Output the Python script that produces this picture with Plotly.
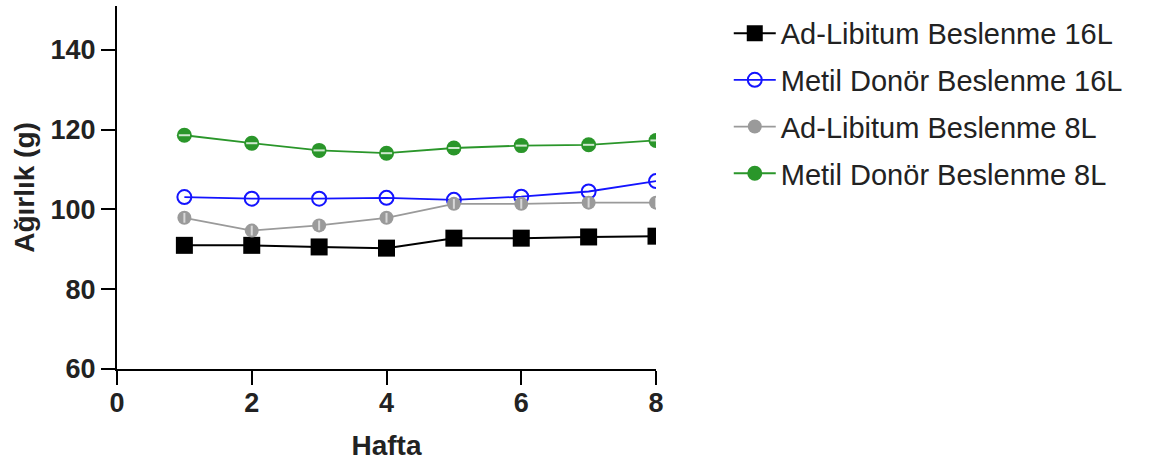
import plotly.graph_objects as go

# Weekly body weight (g) per feeding group
weeks = [1, 2, 3, 4, 5, 6, 7, 8]
ad_lib_16l = [91.0, 91.0, 90.6, 90.3, 92.8, 92.8, 93.1, 93.3]
metil_16l = [103.1, 102.7, 102.7, 102.9, 102.4, 103.2, 104.5, 107.1]
ad_lib_8l = [97.9, 94.7, 96.0, 97.9, 101.4, 101.4, 101.7, 101.7]
metil_8l = [118.6, 116.6, 114.8, 114.1, 115.4, 116.0, 116.2, 117.3]

series_names = [
    "Ad-Libitum Beslenme 16L",
    "Metil Donör Beslenme 16L",
    "Ad-Libitum Beslenme 8L",
    "Metil Donör Beslenme 8L",
]
x_title = "Hafta"
y_title = "Ağırlık (g)"
y_ticks = [60, 80, 100, 120, 140]
x_ticks = [0, 2, 4, 6, 8]

BLACK = "#000000"
BLUE = "#1414ff"
GRAY = "#9a9a9a"
GREEN = "#2a962a"
FONT = "Arial, Liberation Sans, sans-serif"

fig = go.Figure()

fig.add_trace(go.Scatter(
    x=weeks, y=ad_lib_16l, name=series_names[0], mode="lines+markers",
    legendgroup="g1",
    line=dict(color=BLACK, width=2),
    marker=dict(symbol="square", size=17, color=BLACK, line=dict(width=0)),
))
fig.add_trace(go.Scatter(
    x=weeks, y=metil_16l, name=series_names[1], mode="lines+markers",
    legendgroup="g2",
    line=dict(color=BLUE, width=1.8),
    marker=dict(symbol="circle-open", size=14, color=BLUE, line=dict(width=2)),
))
fig.add_trace(go.Scatter(
    x=weeks, y=ad_lib_8l, name=series_names[2], mode="lines+markers",
    legendgroup="g3",
    line=dict(color=GRAY, width=1.8),
    marker=dict(symbol="circle", size=14, color=GRAY, line=dict(width=0)),
))
fig.add_trace(go.Scatter(
    x=weeks, y=metil_8l, name=series_names[3], mode="lines+markers",
    legendgroup="g4",
    line=dict(color=GREEN, width=1.8),
    marker=dict(symbol="circle", size=15, color=GREEN, line=dict(width=0)),
))

# light inner strokes on the half-filled circle symbols
fig.add_trace(go.Scatter(
    x=weeks, y=ad_lib_8l, mode="markers", showlegend=False, hoverinfo="skip",
    marker=dict(symbol="line-ns", size=7, line=dict(color="#d8d8d8", width=2)),
))
fig.add_trace(go.Scatter(
    x=weeks, y=metil_8l, mode="markers", showlegend=False, hoverinfo="skip",
    marker=dict(symbol="line-ew", size=8, line=dict(color="#cfe8cf", width=2)),
))

axis_common = dict(
    showgrid=False, zeroline=False, showline=True, linecolor=BLACK, linewidth=2,
    ticks="outside", ticklen=14, tickwidth=2, tickcolor=BLACK,
    tickfont=dict(family=FONT, size=27, color="#222222", weight="bold"),
)

fig.update_xaxes(
    range=[0, 8], tickvals=x_ticks, ticktext=[str(v) for v in x_ticks],
    ticklabelstandoff=-5,
    title=dict(text=x_title, standoff=18,
               font=dict(family=FONT, size=28, color="#222222", weight="bold")),
    **axis_common,
)
fig.update_yaxes(
    range=[60, 151], tickvals=y_ticks, ticktext=[str(v) for v in y_ticks],
    title=dict(text=y_title, standoff=8,
               font=dict(family=FONT, size=28, color="#222222", weight="bold")),
    **axis_common,
)

fig.update_layout(
    width=1161, height=465,
    margin=dict(l=117, r=505, t=6, b=96),
    paper_bgcolor="white", plot_bgcolor="white",
    showlegend=True,
    legend=dict(
        x=1.135, xanchor="left", y=0.995, yanchor="top",
        font=dict(family=FONT, size=29, color="#222222"),
        tracegroupgap=6, itemwidth=42,
        bgcolor="rgba(0,0,0,0)",
    ),
)

fig.write_html("out.html")
